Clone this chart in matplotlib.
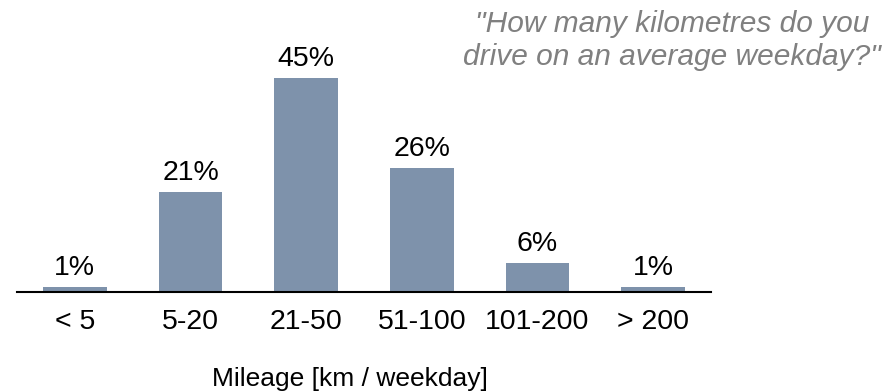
import matplotlib
matplotlib.use("Agg")
import matplotlib.pyplot as plt

categories = ["< 5", "5-20", "21-50", "51-100", "101-200", "> 200"]
values = [1, 21, 45, 26, 6, 1]
value_labels = ["1%", "21%", "45%", "26%", "6%", "1%"]
title_lines = ['"How many kilometres do you', 'drive on an average weekday?"']
xlabel_text = "Mileage [km / weekday]"

plt.rcParams["font.family"] = ["Liberation Sans", "DejaVu Sans"]

W, H = 890, 392
fig = plt.figure(figsize=(W / 100, H / 100), dpi=100)
ax = fig.add_axes([17 / W, (H - 292) / H, (711 - 17) / W, (292 - 20) / H])

x = list(range(len(categories)))
bars = ax.bar(x, values, width=0.55, color="#7e92ab")
ax.set_xlim(-0.5, 5.5)
ax.set_ylim(0, (292 - 20) / 4.76)

for b, lab in zip(bars, value_labels):
    ax.annotate(lab, (b.get_x() + b.get_width() / 2, b.get_height()),
                xytext=(0, 8.6), textcoords="offset points",
                ha="center", va="baseline", fontsize=20.5, color="black")

for s in ["left", "right", "top"]:
    ax.spines[s].set_visible(False)
ax.spines["bottom"].set_linewidth(1.5)
ax.spines["bottom"].set_color("black")
ax.set_yticks([])
ax.set_xticks(x)
ax.set_xticklabels(categories, fontsize=20.5)
ax.tick_params(axis="x", length=0, pad=12)

fig.text(350 / W, 1 - 386 / H, xlabel_text, ha="center", va="baseline",
         fontsize=19, color="black")

for line, base in zip(title_lines, [32, 65]):
    fig.text(672 / W, 1 - base / H, line, ha="center", va="baseline",
             fontsize=21.5, style="italic", color="#808080")

fig.savefig("out.png", dpi=100)
